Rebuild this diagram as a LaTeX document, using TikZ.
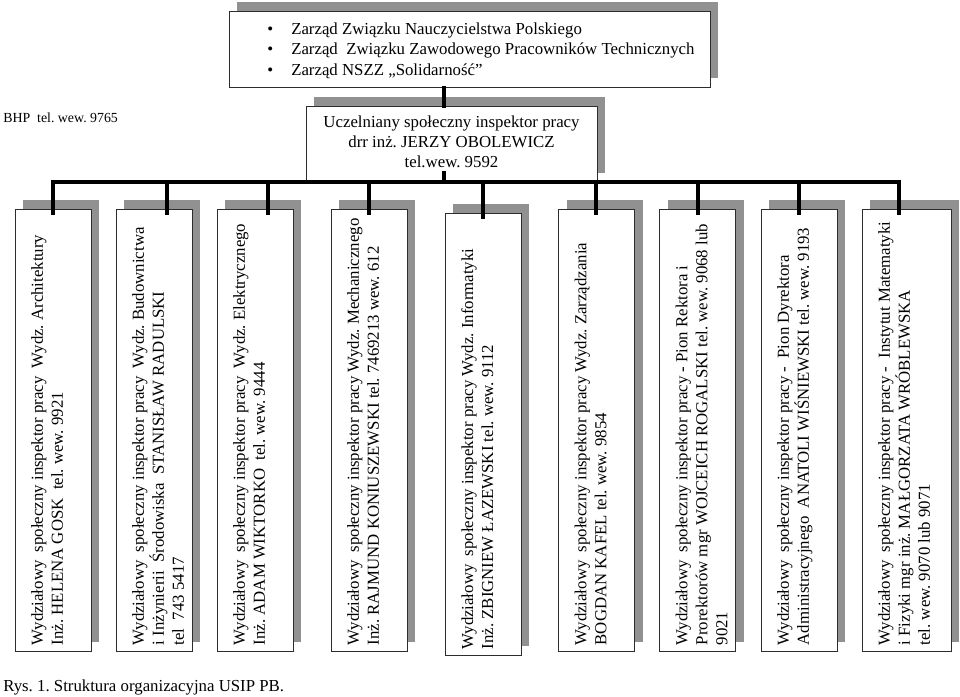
\documentclass[tikz,border=0pt]{standalone}
\usepackage{fontspec}
\setmainfont{Liberation Serif}
\usetikzlibrary{shadows,calc}
\definecolor{shadowgray}{RGB}{145,145,145}
\definecolor{edgecol}{RGB}{45,45,45}
\frenchspacing
\begin{document}
\begin{tikzpicture}[x=0.75pt,y=-0.75pt,
  box/.style={draw=edgecol, line width=0.75pt, fill=white, inner sep=0pt,
     drop shadow={shadow xshift=6pt, shadow yshift=6.75pt, fill=shadowgray, opacity=1}},
  vbox/.style={box, minimum width=57pt, minimum height=331.5pt},
  vtext/.style={rotate=90, anchor=north west, inner sep=0pt, align=left, font=\fontsize{12.6}{15}\selectfont},
  lbl/.style={inner sep=0pt, font=\fontsize{12.6}{15}\selectfont},
  conn/.style={line width=2.4pt, black}
]
\useasboundingbox (0,0) rectangle (960,696);

% top box
\node[box, minimum width=360.75pt, minimum height=57pt] (top) at (469.5,49) {};
\node[lbl, anchor=north west, align=left, font=\fontsize{12.6}{15.4}\selectfont] (toptext) at (267,22.5)
  {\makebox[18pt][l]{\textbullet}Zarząd Związku Nauczycielstwa Polskiego\\
   \makebox[18pt][l]{\textbullet}Zarząd\ \ Związku Zawodowego Pracowników Technicznych\\
   \makebox[18pt][l]{\textbullet}Zarząd NSZZ „Solidarność”};

% middle box
\node[box, minimum width=218.25pt, minimum height=57pt] (mid) at (451.5,144) {};
\node[lbl, align=center] (midtext) at (451.5,141.3)
  {Uczelniany społeczny inspektor pracy\\ drr inż. JERZY OBOLEWICZ\\ tel.wew. 9592};

\node[lbl, anchor=base west, font=\fontsize{10.4}{12}\selectfont] (bhp) at (3,122) {BHP\ \ tel. wew. 9765};

% vertical boxes
\node[vbox] (b1) at (53,430) {};
\node[vbox] (b2) at (154,430) {};
\node[vbox] (b3) at (255,430) {};
\node[vbox] (b4) at (369,430) {};
\node[vbox] (b5) at (483,434) {};
\node[vbox] (b6) at (596.5,430) {};
\node[vbox] (b7) at (697.5,430) {};
\node[vbox] (b8) at (799,430) {};
\node[vbox, minimum width=66.75pt] (b9) at (906.5,430) {};

\node[vtext] (t1) at ($(b1.south west)+(16.5,-6)$)
  {Wydziałowy\ \ społeczny inspektor pracy\ \ Wydz. Architektury\\ Inż. HELENA GOSK\ \ tel. wew. 9921};
\node[vtext] (t2) at ($(b2.south west)+(16.5,-6)$)
  {Wydziałowy\ \ społeczny inspektor pracy\ \ Wydz. Budownictwa\\ i Inżynierii\ \ Środowiska\ \ STANISŁAW RADULSKI\\ tel\ \ 743 5417};
\node[vtext] (t3) at ($(b3.south west)+(16.5,-6)$)
  {Wydziałowy\ \ społeczny inspektor pracy\ \ Wydz. Elektrycznego\\ Inż. ADAM WIKTORKO\ \ tel. wew. 9444};
\node[vtext] (t4) at ($(b4.south west)+(16.5,-6)$)
  {Wydziałowy\ \ społeczny inspektor pracy Wydz. Mechanicznego\\ Inż. RAJMUND KONIUSZEWSKI tel. 7469213 wew. 612};
\node[vtext] (t5) at ($(b5.south west)+(16.5,-6)$)
  {Wydziałowy\ \ społeczny inspektor pracy Wydz. Informatyki\\ Inż. ZBIGNIEW ŁAZEWSKI tel. wew. 9112};
\node[vtext] (t6) at ($(b6.south west)+(16.5,-6)$)
  {Wydziałowy\ \ społeczny inspektor pracy Wydz. Zarządzania\\ BOGDAN KAFEL tel. wew. 9854};
\node[vtext] (t7) at ($(b7.south west)+(16.5,-6)$)
  {Wydziałowy\ \ społeczny inspektor pracy - Pion Rektora i\\ Prorektorów mgr WOJCEICH ROGALSKI tel. wew. 9068 lub\\ 9021};
\node[vtext] (t8) at ($(b8.south west)+(16.5,-6)$)
  {Wydziałowy\ \ społeczny inspektor pracy -\ \ Pion Dyrektora\\ Administracyjnego\ \ ANATOLI WIŚNIEWSKI tel. wew. 9193};
\node[vtext] (t9) at ($(b9.south west)+(16.5,-6)$)
  {Wydziałowy\ \ społeczny inspektor pracy -\ \ Instytut Matematyki\\ i Fizyki mgr inż. MAŁGORZATA WRÓBLEWSKA\\ tel. wew. 9070 lub 9071};

\node[lbl, anchor=base west] (caption) at (3,691) {Rys. 1. Struktura organizacyjna USIP PB.};

% connectors
\coordinate (jm) at (444,182);
\coordinate (j1) at (53,182);
\coordinate (j2) at (167,182);
\coordinate (j3) at (268,182);
\coordinate (j4) at (369,182);
\coordinate (j5) at (483,182);
\coordinate (j6) at (596,182);
\coordinate (j7) at (698,182);
\coordinate (j8) at (799,182);
\coordinate (j9) at (899,182);

\draw[conn] ($(top.south -| jm)+(0,-2)$) -- ($(mid.north -| jm)+(0,2)$);
\draw[conn] ($(mid.south -| jm)+(0,-12)$) -- (jm);
\draw[conn] ($(j1 |- b1.north)+(0,6)$) -- (j1) -- (j9) -- ($(j9 |- b9.north)+(0,6)$);
\foreach \i in {2,...,8}{
  \draw[conn] (j\i) -- ($(j\i |- b\i.north)+(0,6)$);
}
\end{tikzpicture}
\end{document}
